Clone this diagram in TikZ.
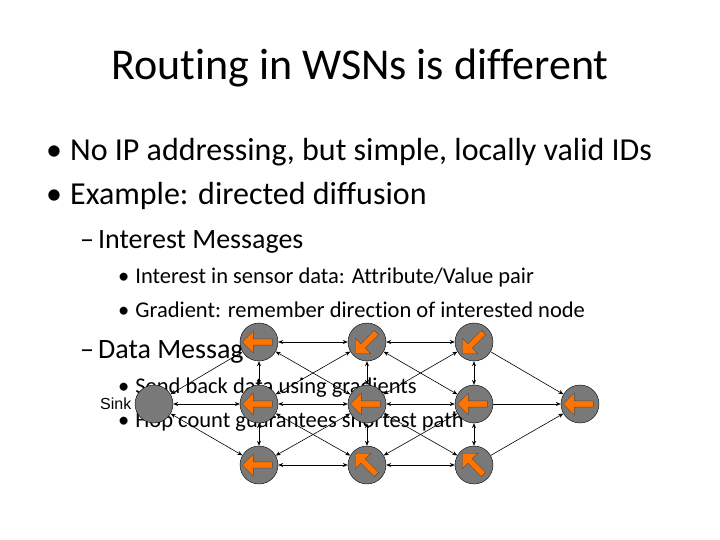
\documentclass[tikz,border=0pt]{standalone}
\usepackage{fontspec}
\setmainfont[Ligatures=NoCommon]{Carlito}
\newfontfamily\arialfont{Liberation Sans}
\usetikzlibrary{arrows.meta}
\usetikzlibrary{shapes.arrows}

\tikzset{
    sensor/.style={circle, draw=black, fill=gray!95!black, minimum size=38pt, inner sep=0pt},
    grad/.style={single arrow, draw=black!70, fill=orange!90!red, single arrow head extend=3pt,
        minimum height=30pt, minimum width=22pt, inner sep=1pt, shape border rotate=180},
    link/.style={<->, >={Stealth[length=5pt,width=4pt]}, semithick},
    hop/.style={->, >={Stealth[length=5pt,width=4pt]}, semithick},
    txt/.style={anchor=base west, inner sep=0pt},
}

\begin{document}
\begin{tikzpicture}[x=1pt, y=-1pt]
    \useasboundingbox (0,0) rectangle (720,540);
    \node[inner sep=0pt, font=\fontsize{44}{48}\selectfont] (title) at (360,68) {Routing in WSNs is different};
    % bullets
    \node[txt, font=\fontsize{32}{36}\selectfont] (b1) at (46,161) {\textbullet\hspace{8pt}No IP addressing, but simple, locally valid IDs};
    \node[txt, font=\fontsize{32}{36}\selectfont] (b2) at (46,205) {\textbullet\hspace{8pt}Example: directed diffusion};
    \node[txt, font=\fontsize{28}{32}\selectfont] (s1) at (80,248) {--\hspace{4pt}Interest Messages};
    \node[txt, font=\fontsize{22.5}{26}\selectfont] (t1) at (118,283) {\textbullet\hspace{6pt}Interest in sensor data: Attribute/Value pair};
    \node[txt, font=\fontsize{22.5}{26}\selectfont] (t2) at (118,317) {\textbullet\hspace{6pt}Gradient: remember direction of interested node};
    \node[txt, font=\fontsize{28}{32}\selectfont] (s2) at (80,358) {--\hspace{4pt}Data Messages};
    \node[txt, font=\fontsize{22.5}{26}\selectfont] (t3) at (118,393) {\textbullet\hspace{6pt}Send back data using gradients};
    \node[txt, font=\fontsize{22.5}{26}\selectfont] (t4) at (118,427) {\textbullet\hspace{6pt}Hop count guarantees shortest path};
    % network
    \node[sensor] (sink) at (154,404) {};
    \node[font=\arialfont\fontsize{16}{18}\selectfont, left=0pt] (sinklbl) at (sink.west) {Sink};
    \foreach \c/\x in {1/259,2/367,3/474} {
        \foreach \r/\y in {a/342,b/404,c/465} {
            \node[sensor] (n\c\r) at (\x,\y) {};
        }
    }
    \node[sensor] (n4b) at (580,404) {};
    % gradients
    \foreach \n/\a in {n1a/0,n1b/0,n1c/0,n2a/45,n2b/0,n2c/-45,n3a/45,n3b/0,n3c/-45,n4b/0} {
        \node[grad, rotate=\a] at (\n) {};
    }
    % links
    \draw[link] (sink) -- (n1a);
    \draw[link] (sink) -- (n1b);
    \draw[link] (sink) -- (n1c);
    \foreach \i/\j in {1/2,2/3} {
        \draw[link] (n\i a) -- (n\j a);
        \draw[link] (n\i b) -- (n\j b);
        \draw[link] (n\i c) -- (n\j c);
        \draw[link] (n\i a) -- (n\j b);
        \draw[link] (n\i b) -- (n\j a);
        \draw[link] (n\i b) -- (n\j c);
        \draw[link] (n\i c) -- (n\j b);
    }
    \foreach \c in {1,2,3} {
        \draw[link] (n\c a) -- (n\c b);
        \draw[link] (n\c b) -- (n\c c);
    }
    \draw[hop] (n3a) -- (n4b);
    \draw[hop] (n3b) -- (n4b);
    \draw[hop] (n3c) -- (n4b);
\end{tikzpicture}
\end{document}
